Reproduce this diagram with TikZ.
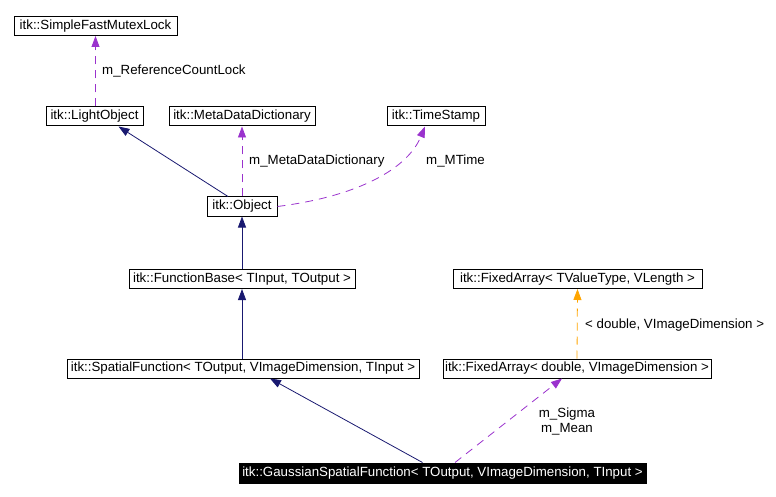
\documentclass[tikz,border=0pt]{standalone}
\usepackage{fontspec}
\setmainfont{Liberation Sans}
\usepackage{tikz}
\usetikzlibrary{arrows.meta, calc}
\definecolor{navy}{HTML}{191970}
\definecolor{orchid}{HTML}{9A32CD}
\definecolor{tmpl}{HTML}{FFA500}
\tikzset{
  cls/.style     = {draw, rectangle, line width=1pt, fill=white,
                    minimum height=19pt, inner sep=0pt,
                    text height=9.6pt, text depth=2.8pt,
                    font=\fontsize{13.3}{15}\selectfont},
  self/.style    = {cls, fill=black, text=white},
  lbl/.style     = {font=\fontsize{13.3}{15}\selectfont, inner sep=0pt,
                    anchor=west, align=center},
  inh/.style     = {-{Triangle[length=11pt, width=8pt]}, navy, line width=0.8pt},
  usage/.style   = {-{Triangle[length=11pt, width=8pt]}, orchid, line width=0.8pt,
                    dash pattern=on 8pt off 6pt},
  templ/.style   = {-{Triangle[length=11pt, width=8pt]}, tmpl, line width=0.8pt,
                    dash pattern=on 8pt off 6pt},
}

\begin{document}
\begin{tikzpicture}[x=1pt, y=-1pt]
  \useasboundingbox (0,0) rectangle (776,497);

  \node[cls, minimum width=163pt] (mutex) at (95.5,26)  {itk::SimpleFastMutexLock};
  \node[cls, minimum width=97pt]  (light) at (94.5,116.5) {itk::LightObject};
  \node[cls, minimum width=146pt] (meta)  at (242,116.5) {itk::MetaDataDictionary};
  \node[cls, minimum width=98pt]  (time)  at (436,116.5) {itk::TimeStamp};
  \node[cls, minimum width=70pt]  (obj)   at (242,206.5) {itk::Object};
  \node[cls, minimum width=226pt] (fb)    at (242,279)   {itk::FunctionBase< TInput, TOutput >};
  \node[cls, minimum width=352pt] (sf)    at (243,368.5) {itk::SpatialFunction< TOutput, VImageDimension, TInput >};
  \node[cls, minimum width=249pt] (fa)    at (577.5,279) {itk::FixedArray< TValueType, VLength >};
  \node[cls, minimum width=268pt] (fad)   at (577,368.5) {itk::FixedArray< double, VImageDimension >};
  \node[self, minimum width=407pt, minimum height=20pt]
                                  (gsf)   at (442.5,473) {itk::GaussianSpatialFunction< TOutput, VImageDimension, TInput >};

  % inheritance
  \draw[inh] ([xshift=-14pt]obj.north) -- ([xshift=24pt]light.south);
  \draw[inh] (fb.north) -- (obj.south);
  \draw[inh] (sf.north -| fb.north) -- (fb.south);
  \draw[inh] ([xshift=-20pt]gsf.north) -- ([xshift=27pt]sf.south);

  % members
  \draw[usage] (light.north -| mutex.south) -- (mutex.south);
  \draw[usage] (obj.north) -- (meta.south);
  \draw[usage] (obj.east) .. controls (360,196) and (408,168) .. ([xshift=-11pt]time.south);
  \draw[usage] ([xshift=12.5pt]gsf.north) -- ([xshift=-15pt]fad.south);
  \draw[templ] (fad.north) -- (fa.south);

  \node[lbl] (lmutex) at (102,71)  {m\_ReferenceCountLock};
  \node[lbl] (lmeta)  at (249,161) {m\_MetaDataDictionary};
  \node[lbl] (ltime)  at (426,161) {m\_MTime};
  \node[lbl, anchor=center] (lfad) at (567,421) {m\_Sigma\\m\_Mean};
  \node[lbl] (lfa)    at (585,325) {< double, VImageDimension >};
\end{tikzpicture}
\end{document}
